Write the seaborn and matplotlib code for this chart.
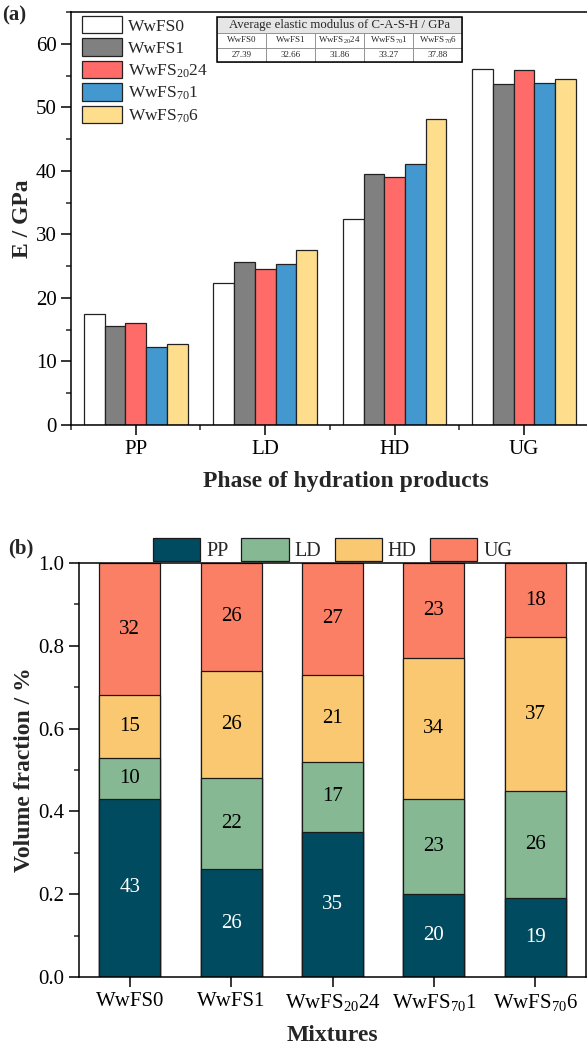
import numpy as np
import pandas as pd
import matplotlib
matplotlib.use("Agg")
import matplotlib.pyplot as plt
import seaborn as sns
from matplotlib.ticker import MultipleLocator, FixedLocator, FormatStrFormatter
from matplotlib.patches import Rectangle

# ---- data -------------------------------------------------------------
mixtures = ["WwFS0", "WwFS1", "WwFS$_{20}$24", "WwFS$_{70}$1", "WwFS$_{70}$6"]
phases = ["PP", "LD", "HD", "UG"]

# elastic modulus of each phase (GPa), one list per mixture (PP, LD, HD, UG)
e_wwfs0 = [17.5, 22.3, 32.4, 56.0]
e_wwfs1 = [15.6, 25.7, 39.5, 53.7]
e_wwfs20_24 = [16.1, 24.6, 39.1, 55.8]
e_wwfs70_1 = [12.3, 25.3, 41.1, 53.9]
e_wwfs70_6 = [12.7, 27.6, 48.1, 54.4]

# average elastic modulus of C-A-S-H (GPa)
avg_cash = [27.39, 32.66, 31.86, 33.27, 37.88]

# volume fraction of each phase (%), one list per phase over the mixtures
vf_pp = [43, 26, 35, 20, 19]
vf_ld = [10, 22, 17, 23, 26]
vf_hd = [15, 26, 21, 34, 37]
vf_ug = [32, 26, 27, 23, 18]

mix_colors = ["#FFFFFF", "#808080", "#FF6B68", "#4399CF", "#FEDD8C"]
phase_colors = ["#004B5F", "#86B893", "#F9C871", "#FB7F65"]

# ---- style ------------------------------------------------------------
sns.set_style("ticks")
plt.rcParams["font.family"] = ["Liberation Serif", "DejaVu Serif"]
plt.rcParams["mathtext.fontset"] = "custom"
plt.rcParams["mathtext.rm"] = "Liberation Serif"
plt.rcParams["mathtext.default"] = "regular"
plt.rcParams["axes.linewidth"] = 1.1
plt.rcParams["axes.edgecolor"] = "black"

fig = plt.figure(figsize=(5.87, 10.45), dpi=100)
ax1 = fig.add_axes([0.121, 0.5933, 0.882, 0.3952])
ax2 = fig.add_axes([0.1346, 0.0651, 0.8637, 0.3962])

# ---- (a) elastic modulus per phase -----------------------------------
e_all = [e_wwfs0, e_wwfs1, e_wwfs20_24, e_wwfs70_1, e_wwfs70_6]
df_e = pd.DataFrame({
    "Phase": phases * len(mixtures),
    "Mixture": np.repeat(mixtures, len(phases)),
    "E": np.concatenate(e_all),
})
sns.barplot(data=df_e, x="Phase", y="E", hue="Mixture", hue_order=mixtures,
            palette=dict(zip(mixtures, mix_colors)), saturation=1, width=0.8,
            gap=0, edgecolor="#222222", linewidth=0.9, errorbar=None, ax=ax1)

ax1.set_xlim(-0.5, 3.5)
ax1.set_ylim(0, 65)
ax1.yaxis.set_major_locator(MultipleLocator(10))
ax1.yaxis.set_minor_locator(MultipleLocator(5))
ax1.xaxis.set_minor_locator(FixedLocator([-0.5, 0.5, 1.5, 2.5, 3.5]))
ax1.tick_params(which="major", direction="out", length=7, width=1.1,
                labelsize=15, color="black", labelcolor="black")
ax1.tick_params(which="minor", direction="out", length=3.5, width=1.1)
for s in ax1.spines.values():
    s.set_visible(True)
    s.set_color("black")
ax1.set_ylabel("E / GPa", fontsize=17, fontweight="bold", labelpad=1.5)
ax1.set_xlabel("Phase of hydration products", fontsize=17, fontweight="bold",
               labelpad=9)
ax1.xaxis.label.set_x(0.53)

sns.move_legend(ax1, "upper left", bbox_to_anchor=(0.021, 0.99), frameon=False,
                title=None, fontsize=12.5, handlelength=2.3, handleheight=1.15,
                labelspacing=0.22, handletextpad=0.35, borderpad=0,
                borderaxespad=0)

# table of average C-A-S-H modulus
tx, tw = 0.282, 0.473
hdr = ax1.table(cellText=[["Average elastic modulus of C-A-S-H / GPa"]],
                cellLoc="center", bbox=[tx, 0.949, tw, 0.039])
body = ax1.table(cellText=[mixtures, [f"{v:.2f}" for v in avg_cash]],
                 cellLoc="center", bbox=[tx, 0.879, tw, 0.070])
hdr.auto_set_font_size(False)
hdr.set_fontsize(9.2)
body.auto_set_font_size(False)
body.set_fontsize(6.5)
for tb in (hdr, body):
    for cell in tb.get_celld().values():
        cell.set_edgecolor("#8a8a8a")
        cell.set_linewidth(0.6)
        cell.PAD = 0.02
hdr[0, 0].set_facecolor("#E6E6E6")
ax1.add_patch(Rectangle((tx, 0.879), tw, 0.109, transform=ax1.transAxes,
                        fill=False, edgecolor="black", linewidth=1.1,
                        zorder=10, clip_on=False))

# ---- (b) volume fractions --------------------------------------------
vf = np.array([vf_pp, vf_ld, vf_hd, vf_ug]) / 100.0
cum = vf.cumsum(axis=0)
for i in reversed(range(len(phases))):
    sns.barplot(x=mixtures, y=cum[i], color=phase_colors[i], saturation=1,
                width=0.6, edgecolor="#1a1a1a", linewidth=0.9, errorbar=None,
                ax=ax2)
for i in range(len(phases)):
    for j in range(len(mixtures)):
        ax2.text(j, cum[i, j] - vf[i, j] / 2, f"{round(vf[i, j] * 100):d}",
                 ha="center", va="center", fontsize=15,
                 color="white" if i == 0 else "black")

ax2.set_xlim(-0.5, 4.5)
ax2.set_ylim(0, 1.0)
ax2.yaxis.set_major_locator(MultipleLocator(0.2))
ax2.yaxis.set_minor_locator(MultipleLocator(0.1))
ax2.yaxis.set_major_formatter(FormatStrFormatter("%.1f"))
ax2.tick_params(which="major", direction="out", length=7, width=1.1,
                labelsize=15, color="black", labelcolor="black")
ax2.tick_params(which="minor", direction="out", length=3.5, width=1.1)
for s in ax2.spines.values():
    s.set_visible(True)
    s.set_color("black")
ax2.set_ylabel("Volume fraction / %", fontsize=17, fontweight="bold", labelpad=2.5)
ax2.set_xlabel("Mixtures", fontsize=17, fontweight="bold", labelpad=9)

handles = list(reversed(ax2.containers))
ax2.legend(handles=handles, labels=phases, loc="lower center",
           bbox_to_anchor=(0.5, 1.005), ncol=4, frameon=False, fontsize=14.5,
           handlelength=2.35, handleheight=1.4, columnspacing=0.65,
           handletextpad=0.3, borderpad=0, borderaxespad=0)

fig.text(0.004, 0.985, "(a)", fontsize=15, fontweight="bold", va="center")
fig.text(0.014, 0.4756, "(b)", fontsize=15, fontweight="bold", va="center")

fig.savefig("out.png", dpi=100)
